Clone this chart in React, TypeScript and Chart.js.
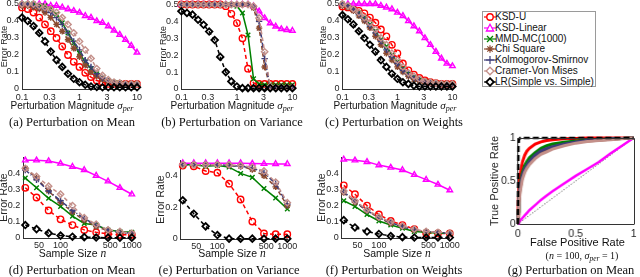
import React, { useEffect, useRef } from "react";
import { Chart, registerables } from "chart.js";
Chart.register(...registerables);

// ---------- data ----------
const SIGMA = [0.1, 0.1259, 0.1585, 0.1995, 0.2512, 0.3162, 0.3981, 0.5012, 0.631, 0.7943, 1, 1.2589, 1.5849, 1.9953, 2.5119, 3.1623, 3.9811, 5.0119, 6.3096, 7.9433, 10];
const SAMPLE_N = [32, 46, 68, 100, 147, 215, 316, 464, 681, 1000];
const SIGMA_TICKS = [0.1, 0.3, 1, 3, 10];
const N_TICKS = [50, 100, 500, 1000];
const ERR_TICKS_TOP = [0, 0.1, 0.2, 0.3, 0.4, 0.5];
const ERR_TICKS_BOTTOM = [0, 0.1, 0.2, 0.3, 0.4];
const ERR_TICKS_E = [0, 0.2, 0.4];
const ROC_TICKS = [0, 0.5, 1];
const METHODS = ["KSD-U", "KSD-Linear", "MMD-MC(1000)", "Chi Square", "Kolmogorov-Smirnov", "Cramer-Von Mises", "LR(Simple vs. Simple)"];

// (a) mean, vs sigma
const aKsdU = [0.48, 0.47, 0.45, 0.42, 0.38, 0.34, 0.30, 0.25, 0.20, 0.16, 0.13, 0.095, 0.07, 0.05, 0.04, 0.03, 0.03, 0.03, 0.03, 0.03, 0.03];
const aKsdLin = [0.5, 0.5, 0.5, 0.5, 0.5, 0.49, 0.49, 0.48, 0.47, 0.46, 0.45, 0.43, 0.42, 0.40, 0.39, 0.37, 0.345, 0.32, 0.29, 0.255, 0.215];
const aMmd = [0.5, 0.5, 0.5, 0.49, 0.49, 0.47, 0.44, 0.39, 0.33, 0.27, 0.21, 0.16, 0.12, 0.09, 0.065, 0.05, 0.04, 0.035, 0.03, 0.03, 0.03];
const aChi = [0.49, 0.49, 0.48, 0.47, 0.45, 0.42, 0.38, 0.34, 0.29, 0.24, 0.19, 0.14, 0.10, 0.075, 0.055, 0.045, 0.035, 0.03, 0.03, 0.03, 0.03];
const aKs = [0.5, 0.5, 0.49, 0.48, 0.47, 0.45, 0.42, 0.38, 0.33, 0.28, 0.23, 0.17, 0.13, 0.09, 0.065, 0.045, 0.035, 0.03, 0.03, 0.03, 0.03];
const aCvm = [0.5, 0.5, 0.5, 0.49, 0.48, 0.47, 0.45, 0.42, 0.38, 0.33, 0.28, 0.23, 0.18, 0.12, 0.08, 0.055, 0.04, 0.035, 0.03, 0.03, 0.03];
const aLr = [0.42, 0.40, 0.37, 0.33, 0.28, 0.22, 0.17, 0.13, 0.09, 0.06, 0.04, 0.025, 0.015, 0.012, 0.01, 0.01, 0.01, 0.01, 0.01, 0.01, 0.01];

// (b) variance, vs sigma
const bKsdU = [0.5, 0.5, 0.5, 0.5, 0.5, 0.5, 0.5, 0.5, 0.49, 0.445, 0.39, 0.30, 0.12, 0.035, 0.03, 0.03, 0.03, 0.03, 0.03, 0.03, 0.03];
const bKsdLin = [0.5, 0.5, 0.5, 0.5, 0.5, 0.5, 0.5, 0.5, 0.5, 0.5, 0.5, 0.5, 0.5, 0.49, 0.46, 0.42, 0.39, 0.37, 0.355, 0.35, 0.345];
const bMmd = [0.5, 0.5, 0.5, 0.5, 0.5, 0.5, 0.5, 0.5, 0.5, 0.5, 0.49, 0.45, 0.32, 0.06, 0.03, 0.025, 0.025, 0.025, 0.025, 0.025, 0.025];
const bChi = [0.5, 0.5, 0.5, 0.5, 0.5, 0.5, 0.5, 0.5, 0.5, 0.5, 0.5, 0.5, 0.5, 0.48, 0.36, 0.13, 0.01, 0.01, 0.01, 0.01, 0.01];
const bKs = [0.5, 0.5, 0.5, 0.5, 0.5, 0.5, 0.5, 0.5, 0.5, 0.5, 0.5, 0.5, 0.5, 0.49, 0.40, 0.18, 0.01, 0.01, 0.01, 0.01, 0.01];
const bCvm = [0.5, 0.5, 0.5, 0.5, 0.5, 0.5, 0.5, 0.5, 0.5, 0.5, 0.5, 0.5, 0.5, 0.49, 0.42, 0.22, 0.015, 0.01, 0.01, 0.01, 0.01];
const bLr = [0.46, 0.45, 0.44, 0.41, 0.38, 0.34, 0.29, 0.19, 0.10, 0.045, 0.015, 0.005, 0.005, 0.005, 0.005, 0.005, 0.005, 0.005, 0.005, 0.005, 0.005];

// (c) weights, vs sigma
const cKsdU = [0.485, 0.48, 0.47, 0.46, 0.445, 0.42, 0.39, 0.35, 0.31, 0.26, 0.21, 0.15, 0.11, 0.085, 0.065, 0.05, 0.04, 0.035, 0.03, 0.03, 0.03];
const cKsdLin = [0.5, 0.5, 0.5, 0.5, 0.5, 0.5, 0.5, 0.49, 0.48, 0.47, 0.45, 0.43, 0.40, 0.37, 0.34, 0.30, 0.26, 0.22, 0.18, 0.15, 0.135];
const cMmd = [0.5, 0.49, 0.47, 0.45, 0.42, 0.38, 0.34, 0.29, 0.25, 0.20, 0.16, 0.12, 0.09, 0.07, 0.055, 0.045, 0.04, 0.035, 0.03, 0.03, 0.03];
const cChi = [0.49, 0.48, 0.46, 0.43, 0.40, 0.36, 0.31, 0.26, 0.21, 0.17, 0.13, 0.10, 0.075, 0.055, 0.045, 0.04, 0.035, 0.03, 0.03, 0.03, 0.03];
const cKs = [0.5, 0.49, 0.47, 0.44, 0.41, 0.37, 0.33, 0.28, 0.23, 0.19, 0.15, 0.11, 0.085, 0.065, 0.05, 0.04, 0.035, 0.03, 0.03, 0.03, 0.03];
const cCvm = [0.5, 0.49, 0.47, 0.45, 0.42, 0.39, 0.35, 0.30, 0.26, 0.21, 0.17, 0.13, 0.095, 0.075, 0.06, 0.045, 0.04, 0.035, 0.03, 0.03, 0.03];
const cLr = [0.435, 0.41, 0.38, 0.34, 0.30, 0.26, 0.22, 0.17, 0.13, 0.09, 0.06, 0.04, 0.03, 0.02, 0.015, 0.015, 0.015, 0.015, 0.015, 0.015, 0.015];

// (d) mean, vs n
const dKsdU = [0.31, 0.25, 0.17, 0.115, 0.08, 0.05, 0.035, 0.025, 0.02, 0.02];
const dKsdLin = [0.48, 0.48, 0.475, 0.46, 0.44, 0.42, 0.385, 0.35, 0.31, 0.27];
const dMmd = [0.37, 0.31, 0.245, 0.195, 0.135, 0.09, 0.08, 0.05, 0.04, 0.035];
const dChi = [0.43, 0.37, 0.29, 0.22, 0.16, 0.11, 0.07, 0.045, 0.035, 0.03];
const dKs = [0.42, 0.36, 0.29, 0.23, 0.17, 0.12, 0.08, 0.05, 0.035, 0.03];
const dCvm = [0.43, 0.38, 0.32, 0.27, 0.20, 0.125, 0.085, 0.05, 0.04, 0.03];
const dLr = [0.08, 0.055, 0.03, 0.015, 0.008, 0.005, 0.003, 0.002, 0.002, 0.002];

// (e) variance, vs n
const eKsdU = [0.465, 0.46, 0.43, 0.42, 0.35, 0.25, 0.11, 0.035, 0.03, 0.03];
const eKsdLin = [0.48, 0.48, 0.48, 0.48, 0.48, 0.48, 0.478, 0.476, 0.475, 0.475];
const eMmd = [0.47, 0.47, 0.46, 0.465, 0.455, 0.415, 0.39, 0.32, 0.26, 0.19];
const eChi = [0.47, 0.47, 0.47, 0.47, 0.465, 0.46, 0.44, 0.40, 0.33, 0.21];
const eKs = [0.47, 0.47, 0.47, 0.47, 0.465, 0.46, 0.45, 0.42, 0.35, 0.22];
const eCvm = [0.47, 0.47, 0.47, 0.47, 0.47, 0.465, 0.455, 0.43, 0.36, 0.23];
const eLr = [0.245, 0.16, 0.08, 0.025, 0.002, 0.002, 0.002, 0.002, 0.002, 0.002];

// (f) weights, vs n
const fKsdU = [0.325, 0.27, 0.2, 0.145, 0.105, 0.08, 0.055, 0.03, 0.028, 0.028];
const fKsdLin = [0.485, 0.48, 0.47, 0.45, 0.435, 0.42, 0.39, 0.36, 0.33, 0.295];
const fMmd = [0.23, 0.195, 0.145, 0.105, 0.08, 0.06, 0.04, 0.035, 0.03, 0.03];
const fChi = [0.28, 0.22, 0.17, 0.125, 0.09, 0.07, 0.05, 0.04, 0.035, 0.03];
const fKs = [0.285, 0.225, 0.17, 0.125, 0.095, 0.07, 0.05, 0.04, 0.035, 0.03];
const fCvm = [0.29, 0.23, 0.175, 0.13, 0.1, 0.075, 0.055, 0.04, 0.035, 0.03];
const fLr = [0.11, 0.065, 0.04, 0.025, 0.012, 0.005, 0.003, 0.003, 0.003, 0.003];

// (g) ROC
const FPR = [0, 0.005, 0.01, 0.02, 0.04, 0.06, 0.08, 0.1, 0.15, 0.2, 0.25, 0.3, 0.4, 0.5, 0.6, 0.7, 0.8, 0.9, 1];
const gKsdU = [0, 0.3, 0.42, 0.57, 0.72, 0.8, 0.85, 0.88, 0.93, 0.955, 0.97, 0.98, 0.99, 0.995, 1, 1, 1, 1, 1];
const gKsdLin = [0, 0.01, 0.02, 0.04, 0.07, 0.1, 0.13, 0.16, 0.22, 0.28, 0.33, 0.38, 0.47, 0.56, 0.64, 0.72, 0.82, 0.91, 1];
const gMmd = [0, 0.15, 0.3, 0.46, 0.6, 0.68, 0.73, 0.77, 0.83, 0.88, 0.91, 0.93, 0.95, 0.965, 0.975, 0.98, 0.99, 0.995, 1];
const gChi = [0, 0.12, 0.25, 0.4, 0.55, 0.62, 0.67, 0.71, 0.78, 0.83, 0.86, 0.89, 0.92, 0.95, 0.965, 0.975, 0.985, 0.993, 1];
const gKs = [0, 0.14, 0.28, 0.43, 0.57, 0.64, 0.69, 0.73, 0.8, 0.85, 0.88, 0.9, 0.93, 0.955, 0.97, 0.98, 0.99, 0.995, 1];
const gCvm = [0, 0.1, 0.22, 0.37, 0.52, 0.6, 0.65, 0.69, 0.76, 0.81, 0.84, 0.87, 0.91, 0.94, 0.96, 0.97, 0.98, 0.99, 1];
const gLr = [0, 0.9, 0.98, 1, 1, 1, 1, 1, 1, 1, 1, 1, 1, 1, 1, 1, 1, 1, 1];
const DIAG = [0, 1];

// ---------- styles ----------
type Key = "ksdU" | "ksdLin" | "mmd" | "chi" | "ks" | "cvm" | "lr";
const KEYS: Key[] = ["ksdU", "ksdLin", "mmd", "chi", "ks", "cvm", "lr"];
const DRAW_ORDER: Key[] = ["lr", "cvm", "ks", "chi", "mmd", "ksdLin", "ksdU"]; // first = on top
const STYLE: Record<Key, { color: string; point: string; dash: number[] }> = {
  ksdU: { color: "#ff0000", point: "circle", dash: [4, 3] },
  ksdLin: { color: "#ff00ff", point: "triangle", dash: [] },
  mmd: { color: "#008000", point: "crossRot", dash: [] },
  chi: { color: "#8b4a30", point: "star", dash: [4, 3] },
  ks: { color: "#3c3c78", point: "cross", dash: [5, 2, 1, 2] },
  cvm: { color: "#c4908a", point: "rectRot", dash: [4, 3] },
  lr: { color: "#000000", point: "rectRot", dash: [4, 3] },
};

type Box = { left: number; top: number; width: number; height: number };
type Area = { l: number; t: number; r: number; b: number };
type Panel = {
  id: string;
  canvas: Box;
  area: Area;
  kind: "sigma" | "n" | "roc";
  series: Record<Key, number[]>;
  yTicks: number[];
  yMax: number;
  yTitle: string;
  xPad: number;
  tickSize: number;
  titleSize: number;
};

const PANELS: Panel[] = [
  { id: "a", canvas: { left: -1, top: -10, width: 151, height: 113 }, area: { l: 22, t: 4, r: 137, b: 89 }, kind: "sigma",
    series: { ksdU: aKsdU, ksdLin: aKsdLin, mmd: aMmd, chi: aChi, ks: aKs, cvm: aCvm, lr: aLr }, yTicks: ERR_TICKS_TOP, yMax: 0.5, yTitle: "Error Rate", xPad: 3, tickSize: 9, titleSize: 9 },
  { id: "b", canvas: { left: 157.6, top: -10, width: 147, height: 113 }, area: { l: 181, t: 4.5, r: 292, b: 89 }, kind: "sigma",
    series: { ksdU: bKsdU, ksdLin: bKsdLin, mmd: bMmd, chi: bChi, ks: bKs, cvm: bCvm, lr: bLr }, yTicks: ERR_TICKS_TOP, yMax: 0.5, yTitle: "Error Rate", xPad: 3, tickSize: 9, titleSize: 9 },
  { id: "c", canvas: { left: 317.6, top: -10, width: 147, height: 113 }, area: { l: 342, t: 4, r: 452, b: 89 }, kind: "sigma",
    series: { ksdU: cKsdU, ksdLin: cKsdLin, mmd: cMmd, chi: cChi, ks: cKs, cvm: cCvm, lr: cLr }, yTicks: ERR_TICKS_TOP, yMax: 0.5, yTitle: "Error Rate", xPad: 3, tickSize: 9, titleSize: 9 },
  { id: "d", canvas: { left: -1.8, top: 142, width: 152, height: 110 }, area: { l: 23.5, t: 157, r: 132, b: 238 }, kind: "n",
    series: { ksdU: dKsdU, ksdLin: dKsdLin, mmd: dMmd, chi: dChi, ks: dKs, cvm: dCvm, lr: dLr }, yTicks: ERR_TICKS_BOTTOM, yMax: 0.5, yTitle: "Error Rate", xPad: 2, tickSize: 9, titleSize: 10.5 },
  { id: "e", canvas: { left: 154.7, top: 142, width: 150, height: 111 }, area: { l: 180.5, t: 160, r: 287, b: 239 }, kind: "n",
    series: { ksdU: eKsdU, ksdLin: eKsdLin, mmd: eMmd, chi: eChi, ks: eKs, cvm: eCvm, lr: eLr }, yTicks: ERR_TICKS_E, yMax: 0.5, yTitle: "Error Rate", xPad: 2, tickSize: 9, titleSize: 10.5 },
  { id: "f", canvas: { left: 316.2, top: 142, width: 149, height: 110 }, area: { l: 342, t: 157, r: 450, b: 238 }, kind: "n",
    series: { ksdU: fKsdU, ksdLin: fKsdLin, mmd: fMmd, chi: fChi, ks: fKs, cvm: fCvm, lr: fLr }, yTicks: ERR_TICKS_BOTTOM, yMax: 0.5, yTitle: "Error Rate", xPad: 2, tickSize: 9, titleSize: 10.5 },
  { id: "g", canvas: { left: 488.4, top: 125, width: 151.6, height: 114 }, area: { l: 518, t: 138, r: 636, b: 224 }, kind: "roc",
    series: { ksdU: gKsdU, ksdLin: gKsdLin, mmd: gMmd, chi: gChi, ks: gKs, cvm: gCvm, lr: gLr }, yTicks: ROC_TICKS, yMax: 1, yTitle: "True Positive Rate", xPad: 3.5, tickSize: 10.5, titleSize: 11 },
];

const SANS = "'Liberation Sans', Arial, sans-serif";
const SERIF = "'Liberation Serif', 'Times New Roman', serif";
const TEXT_COLOR = "#262626";

const boxPlugin = {
  id: "boxPlugin",
  afterDraw(chart: any, _args: any, opts: any) {
    if (!opts || !opts.on) return;
    const { ctx, chartArea } = chart;
    ctx.save();
    ctx.strokeStyle = "#333";
    ctx.lineWidth = 1;
    ctx.beginPath();
    ctx.moveTo(Math.round(chartArea.left) + 0.5, Math.round(chartArea.top) + 0.5);
    ctx.lineTo(Math.round(chartArea.right) + 0.5, Math.round(chartArea.top) + 0.5);
    ctx.lineTo(Math.round(chartArea.right) + 0.5, Math.round(chartArea.bottom) + 0.5);
    ctx.stroke();
    ctx.restore();
  },
};

function buildConfig(p: Panel): any {
  const yW = p.area.l - p.canvas.left;
  const xH = p.canvas.top + p.canvas.height - p.area.b;
  const padTop = p.area.t - p.canvas.top;
  const padRight = p.canvas.left + p.canvas.width - p.area.r;
  const tickFont = { family: SANS, size: p.tickSize };
  const titleFont = { family: SANS, size: p.titleSize };
  let datasets: any[] = [];
  let xScale: any;
  if (p.kind === "roc") {
    datasets = DRAW_ORDER.map((k) => {
      const st = STYLE[k];
      return {
        data: FPR.map((x, i) => ({ x, y: p.series[k][i] })),
        borderColor: st.color,
        borderWidth: k === "lr" ? 2.5 : k === "ksdLin" ? 2.5 : 3,
        borderDash: k === "lr" ? [6, 3] : [],
        pointRadius: 0,
        fill: false,
        tension: 0,
        clip: false,
      };
    });
    datasets.push({
      data: DIAG.map((v) => ({ x: v, y: v })),
      borderColor: "#333",
      borderWidth: 1,
      borderDash: [1, 2],
      pointRadius: 0,
      fill: false,
    });
    xScale = {
      type: "linear",
      min: 0,
      max: 1,
      afterBuildTicks: (s: any) => { s.ticks = ROC_TICKS.map((v) => ({ value: v })); },
      ticks: { font: tickFont, color: TEXT_COLOR, padding: p.xPad, autoSkip: false, maxRotation: 0, callback: (v: any) => String(v) },
    };
  } else {
    const xs = p.kind === "sigma" ? SIGMA : SAMPLE_N;
    const xt = p.kind === "sigma" ? SIGMA_TICKS : N_TICKS;
    datasets = DRAW_ORDER.map((k) => {
      const st = STYLE[k];
      return {
        data: xs.map((x, i) => ({ x, y: p.series[k][i] })),
        borderColor: st.color,
        borderWidth: 1.5,
        borderDash: st.dash,
        pointStyle: st.point,
        pointRadius: k === "lr" ? 3.3 : 3.2,
        pointBorderWidth: k === "lr" ? 1.8 : 1.4,
        pointBorderColor: st.color,
        pointBackgroundColor: "rgba(0,0,0,0)",
        fill: false,
        tension: 0,
        clip: false,
      };
    });
    xScale = {
      type: "logarithmic",
      min: p.kind === "sigma" ? 0.1 : 30,
      max: p.kind === "sigma" ? 10 : 1000,
      afterBuildTicks: (s: any) => { s.ticks = xt.map((v) => ({ value: v })); },
      ticks: { font: tickFont, color: TEXT_COLOR, padding: p.xPad, autoSkip: false, maxRotation: 0, callback: (v: any) => String(v) },
    };
  }
  xScale.grid = { display: false, drawTicks: false };
  xScale.border = { display: true, color: "#333", width: 1 };
  xScale.afterFit = (s: any) => { s.height = xH; };
  const yScale: any = {
    type: "linear",
    min: 0,
    max: p.yMax,
    grid: { display: false, drawTicks: false },
    border: { display: true, color: "#333", width: 1 },
    afterBuildTicks: (s: any) => { s.ticks = p.yTicks.map((v) => ({ value: v })); },
    ticks: { font: tickFont, color: TEXT_COLOR, padding: p.kind === "roc" ? 2 : 3, autoSkip: false, callback: (v: any) => String(v) },
    title: { display: true, text: p.yTitle, font: titleFont, color: TEXT_COLOR, padding: 0 },
    afterFit: (s: any) => { s.width = yW; },
  };
  return {
    type: "line",
    data: { datasets },
    plugins: [boxPlugin],
    options: {
      animation: false,
      responsive: false,
      events: [],
      layout: { padding: { top: padTop, right: padRight, left: 0, bottom: 0 } },
      plugins: { legend: { display: false }, tooltip: { enabled: false }, boxPlugin: { on: p.kind === "roc" } },
      scales: { x: xScale, y: yScale },
    },
  };
}

function PanelChart({ p }: { p: Panel }) {
  const ref = useRef<HTMLCanvasElement>(null);
  useEffect(() => {
    const chart = new Chart(ref.current as HTMLCanvasElement, buildConfig(p));
    return () => chart.destroy();
  }, []);
  return (
    <canvas
      ref={ref}
      width={p.canvas.width}
      height={p.canvas.height}
      style={{ position: "absolute", left: p.canvas.left, top: p.canvas.top, width: p.canvas.width, height: p.canvas.height }}
    />
  );
}

function Label({ cx, cy, size, font, children }: { cx: number; cy: number; size: number; font: string; children: any }) {
  return (
    <div
      style={{
        position: "absolute",
        left: cx,
        top: cy - size * 0.6,
        transform: "translateX(-50%)",
        fontFamily: font,
        fontSize: size,
        lineHeight: `${size * 1.2}px`,
        whiteSpace: "nowrap",
        color: "#111",
      }}
    >
      {children}
    </div>
  );
}

const Sigma = () => (
  <span>
    <span style={{ fontFamily: SERIF, fontStyle: "italic", fontSize: 11 }}>σ</span>
    <span style={{ fontFamily: SERIF, fontStyle: "italic", fontSize: 8, position: "relative", top: 2 }}>per</span>
  </span>
);

const ItalicN = () => <span style={{ fontFamily: SERIF, fontStyle: "italic", fontSize: 11.5 }}>n</span>;

function Marker({ k }: { k: Key }) {
  const st = STYLE[k];
  const c = st.color;
  let m: any = null;
  if (st.point === "circle") m = <circle cx={6} cy={5} r={3.2} fill="white" stroke={c} strokeWidth={1.4} />;
  else if (st.point === "triangle") m = <polygon points="6,1.3 9.6,8 2.4,8" fill="white" stroke={c} strokeWidth={1.3} />;
  else if (st.point === "crossRot") m = <path d="M3,2 L9,8 M9,2 L3,8" stroke={c} strokeWidth={1.3} />;
  else if (st.point === "star") m = <path d="M6,1.2 V8.8 M2.2,5 H9.8 M3.3,2.3 L8.7,7.7 M8.7,2.3 L3.3,7.7" stroke={c} strokeWidth={1.2} />;
  else if (st.point === "cross") m = <path d="M6,1 V9 M2,5 H10" stroke={c} strokeWidth={1.2} />;
  else if (st.point === "rectRot") m = <polygon points="6,1.2 9.8,5 6,8.8 2.2,5" fill="white" stroke={c} strokeWidth={k === "lr" ? 1.8 : 1.3} />;
  return (
    <svg width={12} height={10} style={{ position: "absolute", left: 1, top: 0 }}>
      <line x1={0} y1={5} x2={12} y2={5} stroke={c} strokeWidth={1.2} />
      {m}
    </svg>
  );
}

function Legend() {
  return (
    <div
      style={{
        position: "absolute",
        left: 482,
        top: 11,
        width: 114,
        height: 76,
        boxSizing: "border-box",
        border: "1px solid #9a9a9a",
        background: "white",
      }}
    >
      {KEYS.map((k, i) => (
        <div key={k} style={{ position: "absolute", left: 0, top: 0.2 + i * 10.75, height: 10, width: 112 }}>
          <Marker k={k} />
          <span
            style={{
              position: "absolute",
              left: 12,
              top: -1,
              fontFamily: SANS,
              fontSize: 10,
              lineHeight: "12px",
              whiteSpace: "nowrap",
              color: "#111",
            }}
          >
            {METHODS[i]}
          </span>
        </div>
      ))}
    </div>
  );
}

export default function App() {
  return (
    <div style={{ position: "absolute", left: 0, top: 0, width: 640, height: 277, overflow: "hidden", background: "white" }}>
      {PANELS.map((p) => (
        <PanelChart key={p.id} p={p} />
      ))}
      <Label cx={72} cy={105} size={10} font={SANS}>Perturbation Magnitude <Sigma /></Label>
      <Label cx={232} cy={105} size={10} font={SANS}>Perturbation Magnitude <Sigma /></Label>
      <Label cx={395} cy={105} size={10} font={SANS}>Perturbation Magnitude <Sigma /></Label>
      <Label cx={72} cy={122} size={12.5} font={SERIF}>(a) Perturbation on Mean</Label>
      <Label cx={232} cy={122} size={12.5} font={SERIF}>(b) Perturbation on Variance</Label>
      <Label cx={394} cy={122} size={12.5} font={SERIF}>(c) Perturbation on Weights</Label>
      <Label cx={72.5} cy={253} size={10.5} font={SANS}>Sample Size <ItalicN /></Label>
      <Label cx={232} cy={253} size={10.5} font={SANS}>Sample Size <ItalicN /></Label>
      <Label cx={397} cy={253} size={10.5} font={SANS}>Sample Size <ItalicN /></Label>
      <Label cx={577.5} cy={243} size={11} font={SANS}>False Positive Rate</Label>
      <Label cx={582} cy={256} size={10} font={SERIF}>
        (<i>n</i> = 100, <i>σ</i><span style={{ fontStyle: "italic", fontSize: 7.5, position: "relative", top: 2 }}>per</span> = 1)
      </Label>
      <Label cx={72} cy={270} size={12.5} font={SERIF}>(d) Perturbation on Mean</Label>
      <Label cx={229} cy={270} size={12.5} font={SERIF}>(e) Perturbation on Variance</Label>
      <Label cx={394} cy={270} size={12.5} font={SERIF}>(f) Perturbation on Weights</Label>
      <Label cx={571} cy={270} size={12.5} font={SERIF}>(g) Perturbation on Mean</Label>
      <Legend />
    </div>
  );
}
